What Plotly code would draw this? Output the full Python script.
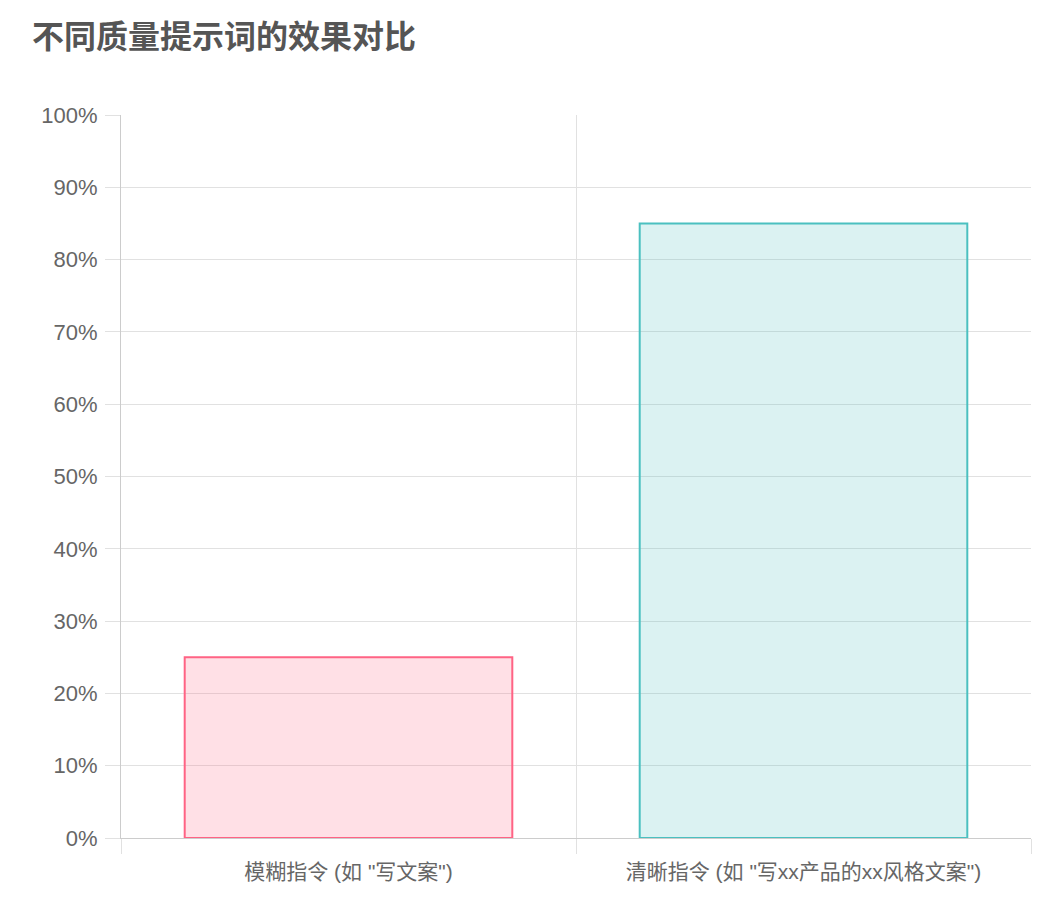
import plotly.graph_objects as go

# --- DATA ---
categories = ['模糊指令 (如 "写文案")', '清晰指令 (如 "写xx产品的xx风格文案")']
effect_pct = [25, 85]
fill_colors = ["rgba(255, 99, 132, 0.2)", "rgba(75, 192, 192, 0.2)"]
border_colors = ["rgb(255, 99, 132)", "rgb(75, 192, 192)"]
y_ticks = list(range(0, 101, 10))
y_tick_labels = [f"{v}%" for v in y_ticks]

FONT = "Liberation Sans, Arial, Noto Sans CJK SC, sans-serif"
GRID = "#e1e1e1"
AXIS = "#cccccc"

# page body adds an 8px margin, so the figure is sized to sit inside it
W, H = 1031, 887

fig = go.Figure()

fig.add_trace(
    go.Bar(
        x=categories,
        y=effect_pct,
        width=0.72,
        marker=dict(color=fill_colors, line=dict(color=border_colors, width=2)),
        hovertemplate="%{x}: %{y}%<extra></extra>",
    )
)

fig.update_layout(
    width=W,
    height=H,
    paper_bgcolor="white",
    plot_bgcolor="white",
    showlegend=False,
    margin=dict(l=113, r=8, t=107, b=57),
    font=dict(family=FONT, size=20, color="#666666"),
    title=dict(
        text="<b>不同质量提示词的效果对比</b>",
        font=dict(family="Noto Sans CJK SC, sans-serif", size=32, color="#555555"),
        x=24 / W,
        xanchor="left",
        xref="container",
        y=1 - 29 / H,
        yanchor="middle",
        yref="container",
    ),
)

fig.update_xaxes(
    type="category",
    tickson="boundaries",
    showgrid=True,
    gridcolor=GRID,
    gridwidth=1,
    ticks="outside",
    ticklen=15,
    tickcolor=GRID,
    showline=True,
    linecolor=AXIS,
    linewidth=1,
    ticklabelstandoff=15,
    tickfont=dict(size=21, color="#666666"),
    fixedrange=True,
)

fig.update_yaxes(
    range=[0, 100],
    tickvals=y_ticks,
    ticktext=y_tick_labels,
    showgrid=True,
    gridcolor=GRID,
    gridwidth=1,
    zeroline=False,
    ticks="outside",
    ticklen=15,
    tickcolor=GRID,
    showline=True,
    linecolor=AXIS,
    linewidth=1,
    ticklabelstandoff=3,
    tickfont=dict(size=22, color="#666666"),
    fixedrange=True,
)

fig.write_html("out.html")
